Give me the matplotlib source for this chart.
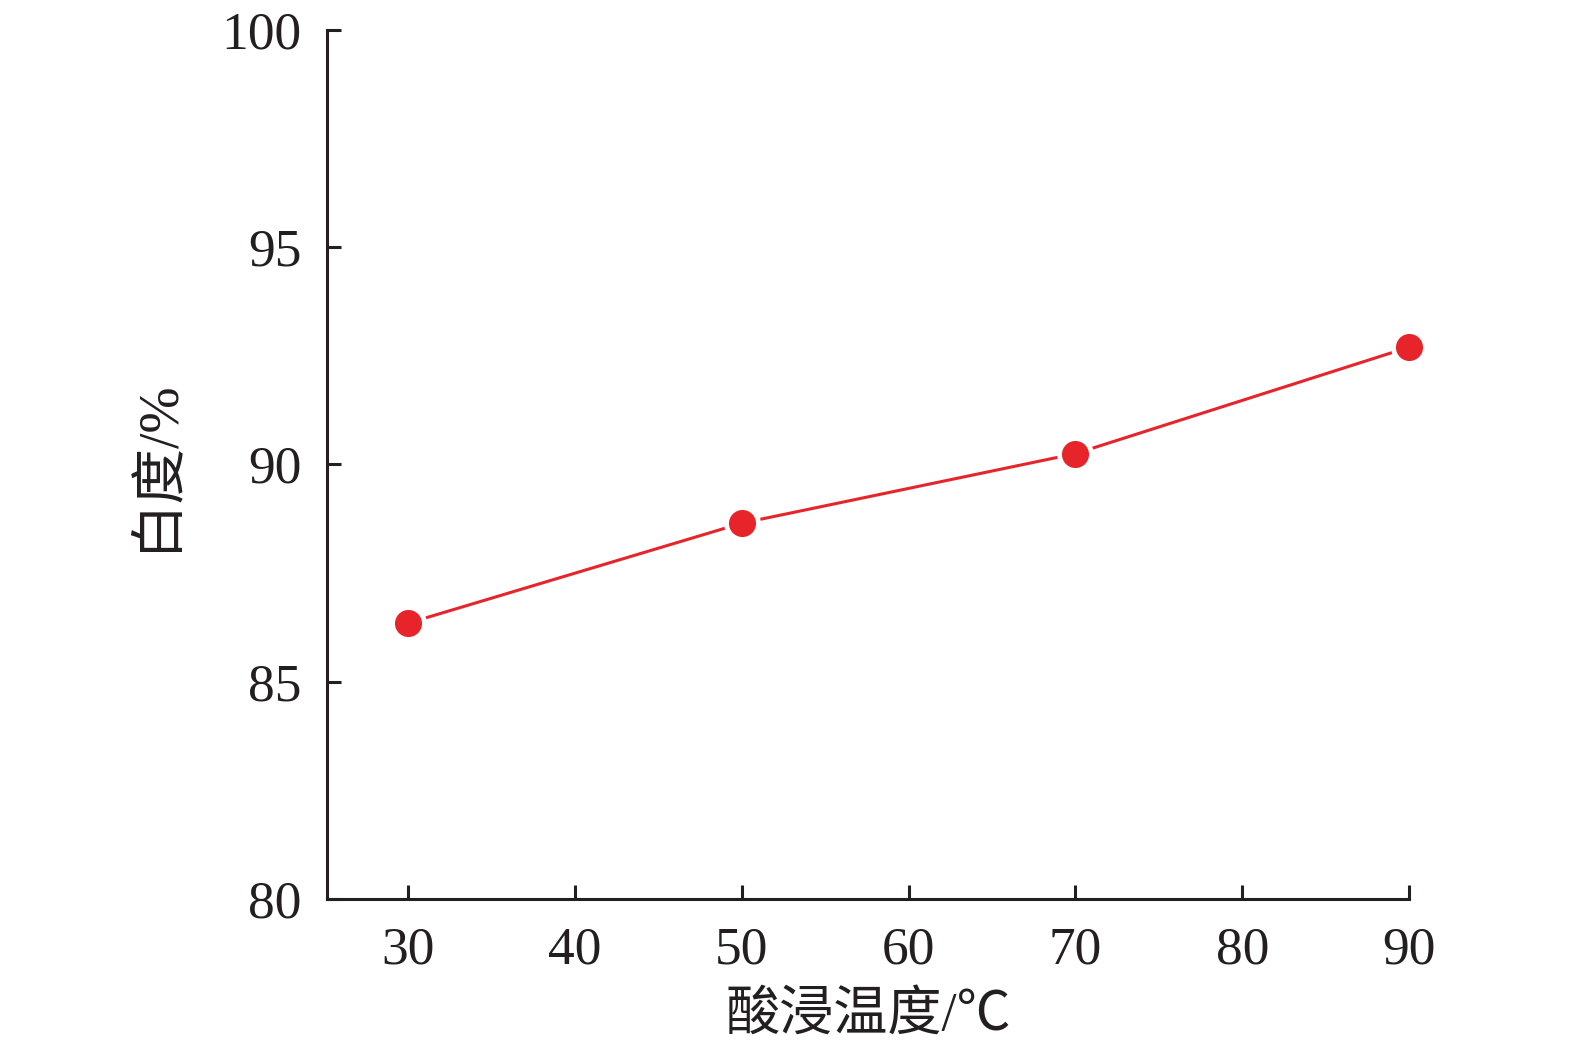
import matplotlib
matplotlib.use('Agg')
import matplotlib.pyplot as plt

# Datos
temperatura = [30, 50, 70, 90]
blancura = [86.35, 88.65, 90.25, 92.7]
xticks = [30, 40, 50, 60, 70, 80, 90]
yticks = [80, 85, 90, 95, 100]

plt.rcParams['font.family'] = ['Liberation Serif', 'Noto Sans CJK SC', 'DejaVu Sans']

fig = plt.figure(figsize=(15.75, 10.49), dpi=100)
ax = fig.add_axes([0.2074, 0.143, 0.6872, 0.8284])

ax.plot(temperatura, blancura, color='#e8242b', linewidth=2.2,
        marker='o', markersize=23, markerfacecolor='#e8242b',
        markeredgecolor='white', markeredgewidth=3.5, clip_on=False, zorder=3)

ax.set_xlim(25.1, 90)
ax.set_ylim(80, 100)
ax.set_xticks(xticks)
ax.set_yticks(yticks)

for s in ['top', 'right']:
    ax.spines[s].set_visible(False)
for s in ['left', 'bottom']:
    ax.spines[s].set_linewidth(2.2)
    ax.spines[s].set_color('#231f20')

ax.tick_params(axis='both', direction='in', length=10, width=2.2,
               colors='#231f20', labelsize=38.5)
ax.tick_params(axis='y', pad=18)
ax.tick_params(axis='x', pad=20)

ax.set_xlabel('酸浸温度/℃', fontsize=39, color='#231f20', labelpad=12)
ax.set_ylabel('白度/%', fontsize=40, color='#231f20', labelpad=28)

fig.savefig('out.png', dpi=100)
